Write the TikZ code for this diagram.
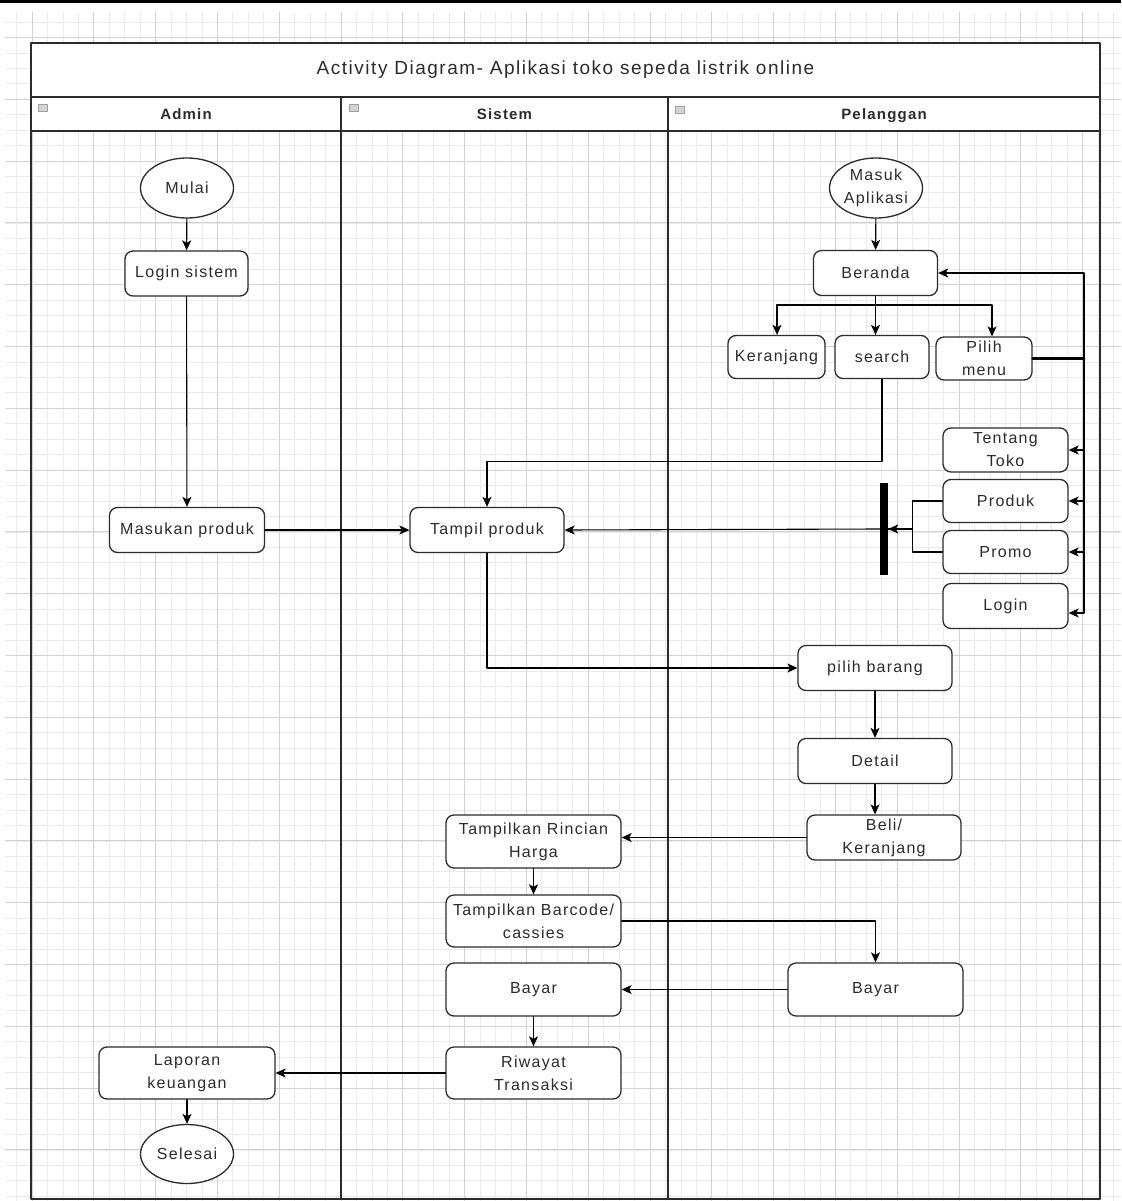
\documentclass[tikz,border=0pt]{standalone}
\usepackage{fontspec}
\setmainfont{Liberation Sans}[LetterSpace=8]
\usetikzlibrary{arrows.meta,shapes.geometric}

\begin{document}
\begin{tikzpicture}[
    x=1pt,
    y=-1pt,
    line cap=round,
    line join=round,
    font=\fontsize{16}{23}\selectfont
]

\definecolor{InkGray}{HTML}{2B2B2B}
\definecolor{GridMinor}{HTML}{EBEBEB}
\definecolor{GridMajor}{HTML}{D2D2D2}
\definecolor{IconGray}{HTML}{9E9E9E}

\tikzset{
    grid minor/.style={
        draw=GridMinor,
        line width=0.8pt
    },
    grid major/.style={
        draw=GridMajor,
        line width=1pt
    },
    lane/.style={
        draw=InkGray,
        line width=1.8pt,
        inner sep=0pt
    },
    lane head/.style={
        draw=InkGray,
        fill=white,
        line width=1.8pt,
        inner sep=0pt,
        text=InkGray,
        font=\fontsize{15}{17}\selectfont\bfseries
    },
    pool title/.style={
        draw=InkGray,
        fill=white,
        line width=1.8pt,
        inner sep=0pt,
        text=InkGray,
        font=\fontsize{19}{22}\selectfont
    },
    lane icon/.style={
        draw=IconGray,
        fill=IconGray!45,
        line width=0.6pt,
        minimum width=9pt,
        minimum height=7pt,
        inner sep=0pt
    },
    action/.style 2 args={
        rounded corners=8pt,
        draw=InkGray,
        fill=white,
        line width=1.3pt,
        minimum width=#1pt,
        minimum height=#2pt,
        inner sep=0pt,
        align=center,
        text=InkGray
    },
    terminal/.style 2 args={
        ellipse,
        draw=InkGray,
        fill=white,
        line width=1.3pt,
        minimum width=#1pt,
        minimum height=#2pt,
        inner sep=0pt,
        align=center,
        text=InkGray
    },
    sync bar/.style={
        fill=black,
        draw=none,
        minimum width=8pt,
        minimum height=92pt,
        inner sep=0pt
    },
    flow/.style={
        draw=black,
        line width=1.1pt,
        -{Stealth[length=10pt,width=9pt,inset=2.5pt]}
    },
    flow line/.style={
        draw=black,
        line width=1.1pt
    }
}

\useasboundingbox (0,0) rectangle (1121,1201);
\fill[black] (0,0) rectangle (1121,3);

\begin{scope}
    \clip (5,12) rectangle (1121,1201);
    \foreach \k in {-2,...,71} {
        \draw[grid minor] ({32+\k*15.45},12) -- ({32+\k*15.45},1201);
    }
    \foreach \k in {-2,...,76} {
        \draw[grid minor] (5,{37.5+\k*15.45}) -- (1121,{37.5+\k*15.45});
    }
    \foreach \k in {0,...,17} {
        \draw[grid major] ({32+\k*61.8},12) -- ({32+\k*61.8},1201);
    }
    \foreach \k in {0,...,18} {
        \draw[grid major] (5,{37.5+\k*61.8}) -- (1121,{37.5+\k*61.8});
    }
\end{scope}

\node[lane, minimum width=310pt, minimum height=1102pt] (admin) at (186,648) {};
\node[lane, minimum width=327pt, minimum height=1102pt] (sistem) at (504.5,648) {};
\node[lane, minimum width=432pt, minimum height=1102pt] (pelanggan) at (884,648) {};

\node[lane head, minimum width=310pt, minimum height=34pt] (adminhead) at (186,114) {Admin};
\node[lane head, minimum width=327pt, minimum height=34pt] (sistemhead) at (504.5,114) {Sistem};
\node[lane head, minimum width=432pt, minimum height=34pt, text depth=0pt] (pelangganhead) at (884,114) {Pelanggan};

\node[pool title, minimum width=1069pt, minimum height=54pt] (pool) at (565.5,70) {Activity Diagram- Aplikasi toko sepeda listrik online};

\foreach \ix/\iy/\name in {43/108/icon1,354/108/icon2,680/110/icon3} {
    \node[lane icon] (\name) at (\ix,\iy) {};
}

\node[terminal={93}{60}] (mulai) at (187,188) {Mulai};
\node[action={123}{45}] (loginsistem) at (186.5,273.5) {Login sistem};
\node[action={155}{45}] (masukan) at (187,530) {Masukan produk};
\node[action={176}{52}] (laporan) at (187,1073) {Laporan\\keuangan};
\node[terminal={93}{59}] (selesai) at (187,1154) {Selesai};

\node[action={154}{45}] (tampil) at (487,530) {Tampil produk};
\node[action={175}{53}] (rincian) at (533.5,841.5) {Tampilkan Rincian\\Harga};
\node[action={175}{52}] (barcode) at (533.5,921) {Tampilkan Barcode/\\cassies};
\node[action={175}{53}] (bayarsistem) at (533.5,989.5) {Bayar};
\node[action={175}{52}] (riwayat) at (533.5,1073) {Riwayat\\Transaksi};

\node[terminal={93}{60}] (masuk) at (876,188) {Masuk\\Aplikasi};
\node[action={124}{45}] (beranda) at (875.5,273) {Beranda};
\node[action={97}{43}] (keranjang) at (776.5,357) {Keranjang};
\node[action={94}{43}] (search) at (882,357) {search};
\node[action={96}{43}] (pilihmenu) at (984,358.5) {Pilih\\menu};
\node[action={125}{44}] (tentang) at (1005.5,450) {Tentang\\Toko};
\node[action={125}{43}] (produk) at (1005.5,501) {Produk};
\node[action={125}{43}] (promo) at (1005.5,552) {Promo};
\node[action={125}{45}] (loginmenu) at (1005.5,606) {Login};
\node[sync bar] (bar) at (884,529) {};
\node[action={154}{45}] (pilihbarang) at (875,668) {pilih barang};
\node[action={154}{45}] (detail) at (875,761) {Detail};
\node[action={154}{45}] (beli) at (884,837.5) {Beli/\\Keranjang};
\node[action={175}{53}] (bayarpelanggan) at (875.5,989.5) {Bayar};

\coordinate (fan) at (875.5,305);
\coordinate (railtop) at (1084,273);
\path ([yshift=-7pt]loginmenu.east) coordinate (loginin);

\draw[flow] (mulai) -- (loginsistem);
\draw[flow] (loginsistem) -- (masukan);
\draw[flow] (masukan) -- (tampil);

\draw[flow] (masuk) -- (beranda);
\draw[flow] (beranda.south) -- (search.north -| beranda.south);
\draw[flow] (fan) -| ([xshift=0.5pt]keranjang.north);
\draw[flow] (fan) -| ([xshift=8pt]pilihmenu.north);

\draw[flow line, line width=2.6pt] (pilihmenu.east) -- (pilihmenu.east -| railtop);
\draw[flow] (pilihmenu.east -| railtop) -- (railtop) -- (beranda.east);
\draw[flow line] (pilihmenu.east -| railtop) -- (railtop |- loginin);
\foreach \item in {tentang,produk,promo} {
    \draw[flow] (railtop |- \item.east) -- (\item.east);
}
\draw[flow] (railtop |- loginin) -- (loginin);

\draw[flow] (search.south) -- ++(0,82) -| (tampil.north);

\draw[flow line] (produk.west) -- ++(-30,0) |- (bar.east);
\draw[flow] (promo.west) -- ++(-30,0) |- (bar.east);
\draw[flow] (bar.west) -- (tampil.east);

\draw[flow] (tampil.south) |- (pilihbarang.west);
\draw[flow] (pilihbarang) -- (detail);
\draw[flow] (detail.south) -- (detail.south |- beli.north);
\draw[flow] (beli.west) -- (beli.west -| rincian.east);
\draw[flow] (rincian) -- (barcode);
\draw[flow] (barcode.east) -| (bayarpelanggan.north);
\draw[flow] (bayarpelanggan) -- (bayarsistem);
\draw[flow] (bayarsistem) -- (riwayat);
\draw[flow] (riwayat) -- (laporan);
\draw[flow] (laporan) -- (selesai);

\end{tikzpicture}
\end{document}
